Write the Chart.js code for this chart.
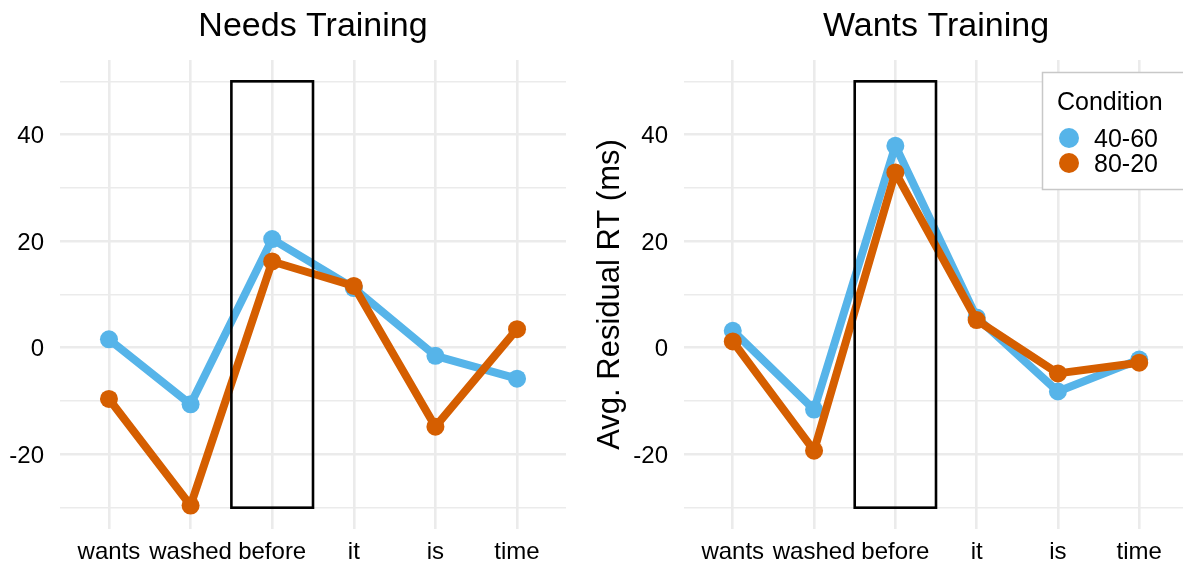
<!DOCTYPE html>
<html>
<head>
<meta charset="utf-8">
<script src="https://cdn.jsdelivr.net/npm/chart.js@4.4.1/dist/chart.umd.min.js"></script>
<style>
  html, body { margin: 0; padding: 0; background: #fff; overflow: hidden; width: 1183px; height: 567px; }
  #wrap { position: relative; width: 1183px; height: 567px; overflow: hidden; }
  canvas { position: absolute; top: 0; }
  #needs { left: 0; }
  #wants { left: 580px; }
</style>
</head>
<body>
<div id="wrap">
  <canvas id="needs" width="590" height="567"></canvas>
  <canvas id="wants" width="620" height="567"></canvas>
</div>
<script>
// Words of the sentence, in reading order
const categories = ['wants', 'washed', 'before', 'it', 'is', 'time'];
const conditions = ['40-60', '80-20'];

// Average residual reading times (ms), per word and condition
const needs4060 = [1.6, -10.6, 20.4, 11.2, -1.5, -5.8];
const needs8020 = [-9.6, -29.6, 16.2, 11.6, -14.8, 3.5];
const wants4060 = [3.2, -11.6, 37.9, 5.7, -8.2, -2.2];
const wants8020 = [1.2, -19.3, 32.9, 5.2, -4.8, -2.8];

// Y axis: grid values and the ones that carry a label
const yTicks = [-30, -20, -10, 0, 10, 20, 30, 40, 50];
const yLabelled = [-20, 0, 20, 40];

// Highlighted region around the critical word ("before")
const boxX = [1.5, 2.5];
const boxY = [-30, 50];

const BLUE = '#56B4E9';
const ORANGE = '#D55E00';
const FONT = '"Liberation Sans", Arial, Helvetica, sans-serif';
const GRID = '#EBEBEB';

const highlightBox = {
  id: 'highlightBox',
  afterDatasetsDraw(chart) {
    const { ctx, scales: { x, y } } = chart;
    const l = x.getPixelForValue(boxX[0]);
    const r = x.getPixelForValue(boxX[1]);
    const t = y.getPixelForValue(boxY[1]);
    const b = y.getPixelForValue(boxY[0]);
    ctx.save();
    ctx.strokeStyle = '#000';
    ctx.lineWidth = 2.6;
    ctx.strokeRect(l, t, r - l, b - t);
    ctx.restore();
  }
};

// Legend drawn inside the plotting area, top-right corner
const insetLegend = {
  id: 'insetLegend',
  afterDraw(chart, args, opts) {
    if (!opts.display) return;
    const { ctx, chartArea } = chart;
    const left = chartArea.right - 146;
    const top = chartArea.top + 12;
    ctx.save();
    ctx.fillStyle = '#fff';
    ctx.fillRect(left, top, 150, 117);
    ctx.strokeStyle = '#c8c8c8';
    ctx.lineWidth = 1.5;
    ctx.strokeRect(left + 0.5, top + 0.5, 150, 117);
    ctx.fillStyle = '#000';
    ctx.font = '25px ' + FONT;
    ctx.textAlign = 'left';
    ctx.textBaseline = 'alphabetic';
    ctx.fillText(opts.title, left + 15, top + 38);
    ctx.textBaseline = 'middle';
    chart.data.datasets.forEach((ds, i) => {
      const cy = top + 66 + i * 25;
      ctx.beginPath();
      ctx.fillStyle = ds.borderColor;
      ctx.arc(left + 27, cy, 10, 0, Math.PI * 2);
      ctx.fill();
      ctx.fillStyle = '#000';
      ctx.fillText(ds.label, left + 52, cy + 2);
    });
    ctx.restore();
  }
};

function series(values) {
  return values.map((v, i) => ({ x: i, y: v }));
}

function panel(id, titleText, s4060, s8020, withAxisTitle, plotRight) {
  const canvas = document.getElementById(id);
  const yAxisWidth = withAxisTitle ? 104 : 60;
  return new Chart(canvas, {
    type: 'line',
    data: {
      datasets: [
        { label: conditions[0], data: series(s4060), borderColor: BLUE, backgroundColor: BLUE, pointBackgroundColor: BLUE, order: 2 },
        { label: conditions[1], data: series(s8020), borderColor: ORANGE, backgroundColor: ORANGE, pointBackgroundColor: ORANGE, order: 1 }
      ]
    },
    plugins: [highlightBox, insetLegend],
    options: {
      responsive: false,
      animation: false,
      devicePixelRatio: 1,
      layout: { padding: { left: 0, right: canvas.width - plotRight, top: 0, bottom: 0 } },
      elements: {
        line: { borderWidth: 8, tension: 0, borderJoinStyle: 'round', borderCapStyle: 'round', fill: false },
        point: { radius: 9, hoverRadius: 9, borderWidth: 0 }
      },
      plugins: {
        legend: { display: false },
        tooltip: { enabled: false },
        title: {
          display: true,
          text: titleText,
          fullSize: false,
          color: '#000',
          font: { family: FONT, size: 34, weight: 'normal', lineHeight: 1.2 },
          padding: { top: 6, bottom: 13.2 }
        },
        insetLegend: { display: withAxisTitle, title: 'Condition' }
      },
      scales: {
        x: {
          type: 'linear',
          bounds: 'data',
          min: -0.6,
          max: 5.6,
          afterBuildTicks: s => { s.ticks = categories.map((_, i) => ({ value: i })); },
          afterFit: s => { s.height = 38; },
          ticks: {
            callback: v => categories[v],
            padding: 9,
            color: '#000',
            autoSkip: false,
            maxRotation: 0,
            font: { family: FONT, size: 24 }
          },
          grid: { color: GRID, lineWidth: 2.6, drawTicks: false },
          border: { display: false }
        },
        y: {
          type: 'linear',
          bounds: 'data',
          min: -34,
          max: 54,
          afterBuildTicks: s => { s.ticks = yTicks.map(v => ({ value: v })); },
          afterFit: s => { s.width = yAxisWidth; },
          ticks: {
            callback: v => (yLabelled.includes(v) ? String(v) : ''),
            padding: 16,
            labelOffset: 2,
            color: '#000',
            font: { family: FONT, size: 24 }
          },
          grid: {
            color: GRID,
            lineWidth: c => (c.tick && yLabelled.includes(c.tick.value) ? 2.6 : 1.4),
            drawTicks: false
          },
          border: { display: false },
          title: {
            display: withAxisTitle,
            text: 'Avg. Residual RT (ms)',
            color: '#000',
            font: { family: FONT, size: 31, lineHeight: 1.2 },
            padding: { top: 11.4, bottom: 0 }
          }
        }
      }
    }
  });
}

panel('needs', 'Needs Training', needs4060, needs8020, false, 566);
panel('wants', 'Wants Training', wants4060, wants8020, true, 1188 - 580);
</script>
</body>
</html>
